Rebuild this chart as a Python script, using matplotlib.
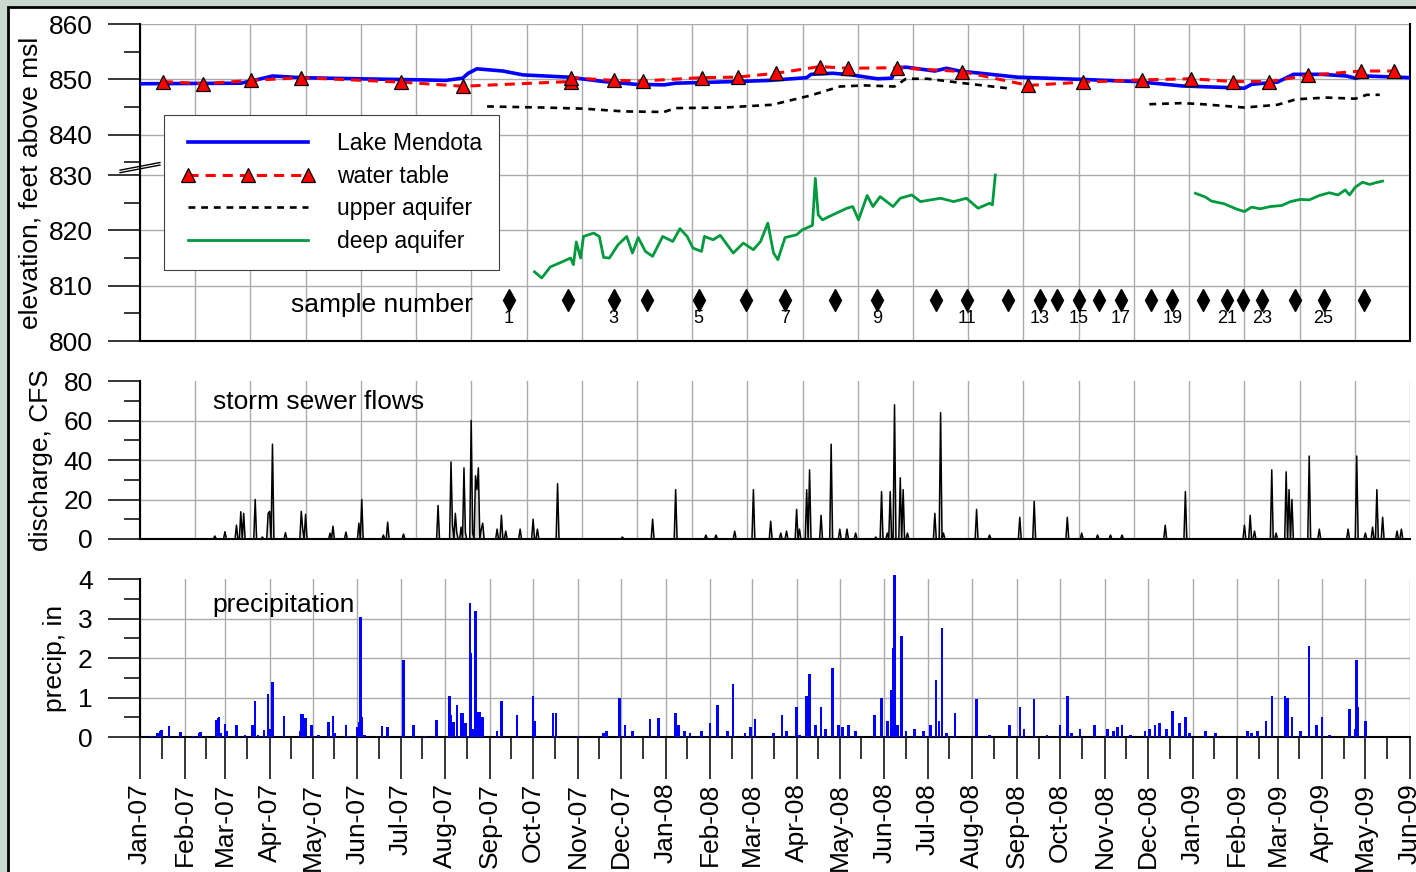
import numpy as np
import matplotlib
matplotlib.use('Agg')
import matplotlib.pyplot as plt
import matplotlib.dates as mdates
from matplotlib.ticker import FixedLocator, NullFormatter
from matplotlib.patches import Rectangle

plt.rcParams['font.family'] = ['Liberation Sans', 'DejaVu Sans']

# ---------------- data (days counted from 2007-01-01) ----------------
START = '2007-01-01'
END = '2009-06-01'

lake_day = [0, 70, 84, 92, 112, 151, 196, 212, 224, 228, 234, 252, 266, 297, 322, 344,
            364, 372, 414, 437, 463, 466, 481, 494, 512, 522, 526, 532, 552, 560, 569,
            609, 652, 692, 724, 767, 772, 790, 801, 821, 838, 844, 852, 882]
lake_ft = [849.2, 849.3, 850.1, 850.6, 850.3, 850.1, 849.9, 849.8, 850.2, 851.1, 851.9,
           851.5, 850.8, 850.4, 849.6, 849.1, 849.0, 849.3, 849.6, 849.8, 850.3, 850.9,
           851.1, 850.8, 850.1, 850.2, 852.1, 852.2, 851.5, 852.0, 851.5, 850.4, 850.0,
           849.6, 848.8, 848.4, 849.1, 849.5, 850.9, 850.9, 850.6, 850.2, 850.6, 850.3]

wt_day = [16, 44, 77, 112, 181, 224, 299, 299, 329, 349, 390, 415, 442, 472, 492, 526,
          571, 617, 655, 696, 730, 759, 784, 811, 848, 871]
wt_ft = [849.6, 849.2, 849.8, 850.3, 849.5, 848.75, 849.6, 850.3, 849.8, 849.7, 850.3,
         850.4, 851.1, 852.3, 852.0, 852.1, 851.4, 848.9, 849.5, 849.9, 850.1, 849.6,
         849.6, 850.7, 851.5, 851.5]

upper_day = [241, 280, 308, 336, 364, 372, 406, 439, 466, 486, 503, 524, 532, 547, 572,
             602, 650, 701, 724, 738, 767, 790, 803, 824, 844, 852, 861]
upper_ft = [845.1, 844.9, 844.7, 844.2, 844.1, 844.8, 844.9, 845.4, 847.1, 848.7, 848.9,
            848.7, 850.1, 850.1, 849.3, 848.4, np.nan, 845.5, 845.7, 845.5, 844.9, 845.4,
            846.4, 846.7, 846.5, 847.2, 847.2]

deep_day = [274, 279, 285, 294, 299, 301, 303, 306, 308, 315,
            319, 322, 326, 332, 338, 342, 346, 351, 356, 363,
            370, 375, 380, 384, 390, 392, 398, 403, 412, 419,
            426, 431, 436, 440, 443, 448, 456, 460, 467, 469,
            471, 474, 481, 491, 495, 499, 505, 509, 514, 523,
            528, 536, 542, 556, 565, 574, 582, 590, 592, 594,
            660,
            733, 740, 744, 753, 762, 767, 772, 778, 785, 793,
            799, 806, 812, 819, 826, 832, 837, 840, 844, 849,
            854, 858, 863]
deep_ft = [812.5, 811.4, 813.4, 814.4, 815.0, 813.8, 817.9, 815.0, 818.9, 819.5,
           818.9, 815.1, 815.0, 817.4, 818.9, 815.9, 818.7, 816.2, 815.3, 818.9,
           818.0, 820.3, 818.9, 816.8, 816.2, 818.9, 818.3, 819.1, 815.9, 817.7,
           816.5, 818.0, 821.3, 815.9, 814.7, 818.7, 819.2, 820.1, 820.9, 829.4,
           822.8, 821.9, 822.8, 824.0, 824.3, 821.9, 826.3, 824.3, 826.1, 824.3,
           825.8, 826.4, 825.2, 825.8, 825.2, 825.8, 824.0, 824.9, 824.6, 830.0,
           np.nan,
           826.7, 826.0, 825.3, 824.8, 823.8, 823.4, 824.2, 823.9, 824.3, 824.5,
           825.2, 825.6, 825.5, 826.3, 826.8, 826.4, 827.3, 826.4, 827.8, 828.7,
           828.3, 828.6, 828.9]

sample_day = [256, 297, 329, 352, 388, 421, 448, 483, 512, 553, 574, 603, 625, 637,
              652, 666, 681, 702, 717, 738, 755, 766, 779, 802, 822, 850]
sample_no = list(range(1, 27))
sample_level = 807.4

storm_day = [52, 59, 67, 70, 72, 80, 85, 89, 90, 92,
             101, 112, 113, 115, 132, 134, 143, 152, 154, 169,
             172, 183, 207, 216, 217, 219, 220, 223, 225, 226,
             230, 231, 233, 234, 235, 237, 238, 248, 251, 254,
             264, 273, 276, 290, 335, 356, 372, 393, 400, 413,
             426, 438, 445, 449, 456, 458, 463, 465, 473, 480,
             486, 491, 497, 511, 515, 519, 521, 524, 528, 530,
             533, 552, 556, 558, 581, 590, 611, 621, 644, 654,
             665, 674, 682, 712, 726, 767, 771, 774, 786, 789,
             796, 798, 800, 812, 819, 839, 845, 851, 856, 859,
             863, 873, 876]
storm_cfs = [1.5, 3.7, 7, 13.8, 13, 20, 1, 13, 14, 48,
             3.2, 14, 5, 12.5, 3, 6.5, 3.5, 8, 20, 2,
             8.5, 2.5, 17, 39, 7, 13, 3, 6, 36, 3,
             60, 3, 32, 25, 36, 5, 8, 5, 12, 4,
             5, 10, 5, 28, 1, 10, 25, 2, 2, 4,
             25, 9, 3, 4, 15, 5, 25, 35, 12, 48,
             5, 5, 3, 1, 24, 3, 24, 68, 31, 25,
             3, 13, 64, 3, 15, 2, 11, 19, 11, 3,
             2, 2, 2, 7, 24, 7, 12, 4, 35, 3,
             34, 25, 20, 42, 5, 5, 42, 3, 6, 25,
             11, 4, 5]

precip_day = [8, 12, 14, 15, 20, 28, 37, 41, 42, 53,
              54, 55, 56, 59, 60, 67, 73, 78, 80, 82,
              86, 89, 90, 92, 100, 111, 112, 113, 115, 119,
              124, 131, 134, 135, 143, 145, 151, 152, 153, 154,
              156, 168, 172, 183, 190, 198, 206, 215, 216, 217,
              218, 220, 223, 224, 226, 229, 230, 231, 233, 235,
              236, 238, 248, 251, 262, 273, 274, 287, 289, 304,
              322, 324, 333, 337, 342, 354, 360, 372, 374, 378,
              382, 390, 396, 401, 408, 412, 420, 424, 427, 440,
              446, 449, 456, 458, 463, 465, 469, 473, 476, 481,
              485, 488, 492, 497, 510, 515, 519, 522, 523, 524,
              526, 529, 532, 538, 544, 549, 553, 555, 557, 560,
              566, 581, 590, 604, 611, 614, 621, 630, 639, 644,
              647, 653, 663, 672, 676, 679, 682, 688, 698, 701,
              705, 708, 713, 717, 722, 726, 729, 740, 747, 769,
              772, 776, 782, 786, 795, 797, 800, 806, 812, 817,
              821, 826, 840, 844, 845, 846, 851]
precip_in = [0.03, 0.1, 0.15, 0.17, 0.28, 0.12, 0.03, 0.1, 0.12, 0.43,
             0.48, 0.5, 0.1, 0.32, 0.15, 0.3, 0.04, 0.3, 0.9, 0.06,
             0.17, 1.08, 0.2, 1.4, 0.53, 0.15, 0.57, 0.58, 0.48, 0.3,
             0.06, 0.38, 0.52, 0.1, 0.3, 0.03, 0.25, 0.38, 3.05, 0.5,
             0.06, 0.28, 0.25, 1.95, 0.3, 0.03, 0.43, 1.05, 0.55, 0.37,
             0.37, 0.8, 0.62, 0.61, 0.36, 3.4, 2.13, 0.2, 3.2, 0.63,
             0.63, 0.5, 0.15, 0.9, 0.55, 1.05, 0.4, 0.6, 0.6, 0.03,
             0.1, 0.15, 1.0, 0.3, 0.15, 0.45, 0.47, 0.6, 0.3, 0.15,
             0.1, 0.15, 0.35, 0.8, 0.15, 1.35, 0.1, 0.25, 0.45, 0.1,
             0.55, 0.15, 0.75, 0.05, 1.05, 1.6, 0.3, 0.75, 0.2, 1.75,
             0.3, 0.25, 0.3, 0.15, 0.55, 1.0, 0.4, 1.2, 2.25, 4.1,
             0.3, 2.55, 0.15, 0.2, 0.15, 0.3, 1.45, 0.4, 2.75, 0.1,
             0.6, 0.95, 0.05, 0.3, 0.75, 0.2, 0.95, 0.05, 0.3, 1.05,
             0.1, 0.2, 0.3, 0.2, 0.15, 0.25, 0.3, 0.05, 0.15, 0.2,
             0.3, 0.35, 0.2, 0.65, 0.35, 0.5, 0.1, 0.15, 0.1, 0.15,
             0.1, 0.15, 0.4, 1.05, 1.05, 1.0, 0.5, 0.15, 2.3, 0.3,
             0.5, 0.05, 0.7, 0.2, 1.95, 0.75, 0.4]

elev_ticks = [800, 810, 820, 830, 840, 850, 860]
elev_minor = [805, 815, 825, 835, 845, 855]
flow_ticks = [0, 20, 40, 60, 80]
flow_minor = [10, 30, 50, 70]
precip_ticks = [0, 1, 2, 3, 4]
precip_minor = [0.5, 1.5, 2.5, 3.5]


def to_dates(days):
    return np.datetime64(START) + np.asarray(days).astype('timedelta64[D]')


# ---------------- figure ----------------
W, H = 1416, 872
fig = plt.figure(figsize=(W / 100, H / 100), dpi=100)
fig.patch.set_facecolor('#cbd8d0')
fig.add_artist(Rectangle((8 / W, -0.05), 1.2, (H - 7) / H + 0.05, transform=fig.transFigure,
                         facecolor='white', edgecolor='black', linewidth=2.0, zorder=-10))

L, Wd = 140 / W, 1270 / W
ax1 = fig.add_axes([L, (H - 341) / H, Wd, 317 / H])
ax2 = fig.add_axes([L, (H - 539) / H, Wd, 158 / H])
ax3 = fig.add_axes([L, (H - 737) / H, Wd, 158 / H])

x0 = mdates.date2num(np.datetime64(START))
x1 = mdates.date2num(np.datetime64(END))
GRID = dict(color='#ababab', linewidth=1.0)
FS = 19

# broken elevation scale (gap between 830 and 840)
def fwd(y):
    y = np.asarray(y, dtype=float)
    return np.where(y <= 832, y, np.where(y >= 835, y - 2.7, 832 + (y - 832) * 0.1))

def inv(f):
    f = np.asarray(f, dtype=float)
    return np.where(f <= 832, f, np.where(f >= 832.3, f + 2.7, 832 + (f - 832) / 0.1))

for ax in (ax1, ax2, ax3):
    ax.set_facecolor('white')
    for s in ('top', 'right'):
        ax.spines[s].set_visible(False)
    for s in ('left', 'bottom'):
        ax.spines[s].set_linewidth(1.5)
    ax.tick_params(axis='y', which='major', direction='out', length=23, width=1.1,
                   labelsize=FS, pad=11, colors='black')
    ax.tick_params(axis='y', which='minor', direction='out', length=11.5, width=1.1)

# ---------------- top panel ----------------
ax1.set_yscale('function', functions=(fwd, inv))
ax1.plot(to_dates(lake_day), lake_ft, color='#0000ff', lw=2.6, label='Lake Mendota', zorder=3)
ax1.plot(to_dates(wt_day), wt_ft, color='#ff0000', lw=2.2, dashes=(3.3, 2.3),
         marker='^', ms=10, mfc='#ff0000', mec='black', mew=0.9,
         label='water table', zorder=4)
ax1.plot(to_dates(upper_day), upper_ft, color='black', lw=1.9, dashes=(2.6, 2.2),
         label='upper aquifer', zorder=3)
ax1.plot(to_dates(deep_day), deep_ft, color='#009a3e', lw=2.0, label='deep aquifer', zorder=3)

ax1.plot(to_dates(sample_day), [sample_level] * len(sample_day), linestyle='none',
         marker='d', ms=11, color='black', zorder=4)
for d, n in zip(sample_day, sample_no):
    if n % 2 == 1:
        ax1.annotate(str(n), (to_dates([d])[0], sample_level), xytext=(0, -13.5),
                     textcoords='offset points', ha='center', va='center', fontsize=13)
ax1.text(0.1906, 0.1136, 'sample number', transform=ax1.transAxes, fontsize=FS,
         ha='center', va='center')

ax1.set_ylim(800, 860)
ax1.yaxis.set_major_locator(FixedLocator(elev_ticks))
ax1.yaxis.set_minor_locator(FixedLocator(elev_minor))
ax1.yaxis.set_minor_formatter(NullFormatter())
ax1.yaxis.set_major_formatter(matplotlib.ticker.FormatStrFormatter('%d'))
ax1.spines['right'].set_visible(True)
ax1.spines['right'].set_linewidth(1.5)
ax1.set_ylabel('elevation, feet above msl', fontsize=FS)
ax1.yaxis.set_label_coords(-0.0764, 0.5)

# break marks
for dy in (0.0, 0.008):
    ax1.plot([-0.0157, 0.0157], [0.531 + dy, 0.555 + dy], transform=ax1.transAxes,
             color='black', lw=1.0, clip_on=False, zorder=6)

leg = ax1.legend(loc='upper left', bbox_to_anchor=(0.0189, 0.713), borderaxespad=0,
                 fontsize=16.5, handlelength=5.85, handletextpad=0.95, labelspacing=0.42,
                 borderpad=0.75, numpoints=3, frameon=True, fancybox=False,
                 edgecolor='#404040', framealpha=1)
leg.get_frame().set_linewidth(0.8)
leg.set_zorder(10)

# ---------------- storm sewer panel ----------------
all_days = np.arange(0, 883)
flow = np.zeros(all_days.size)
flow[storm_day] = storm_cfs
ax2.fill_between(to_dates(all_days), flow, color='#d6d6d6', lw=0, zorder=2)
ax2.plot(to_dates(all_days), flow, color='black', lw=1.1, zorder=3)
ax2.set_ylim(0, 80)
ax2.yaxis.set_major_locator(FixedLocator(flow_ticks))
ax2.yaxis.set_minor_locator(FixedLocator(flow_minor))
ax2.yaxis.set_minor_formatter(NullFormatter())
ax2.text(0.0575, 0.867, 'storm sewer flows', transform=ax2.transAxes, fontsize=FS,
         ha='left', va='center')
ax2.set_ylabel('discharge, CFS', fontsize=FS)
ax2.yaxis.set_label_coords(-0.0685, 0.5)

# ---------------- precipitation panel ----------------
ax3.bar(to_dates(precip_day), precip_in, width=1.7, color='#0000ff', linewidth=0,
        zorder=3, clip_on=False)
ax3.set_ylim(0, 4)
ax3.yaxis.set_major_locator(FixedLocator(precip_ticks))
ax3.yaxis.set_minor_locator(FixedLocator(precip_minor))
ax3.yaxis.set_minor_formatter(NullFormatter())
ax3.text(0.0567, 0.835, 'precipitation', transform=ax3.transAxes, fontsize=FS,
         ha='left', va='center')
ax3.set_ylabel('precip, in', fontsize=FS)
ax3.yaxis.set_label_coords(-0.0575, 0.5)

# ---------------- x axes ----------------
for ax in (ax1, ax2):
    ax.xaxis.set_major_locator(FixedLocator(np.linspace(x0, x1, 24)))
    ax.tick_params(axis='x', which='both', length=0, labelbottom=False)
    ax.set_xlim(x0, x1)
    ax.grid(True, axis='both', **GRID)
    ax.set_axisbelow(True)

ax3.xaxis.set_major_locator(mdates.MonthLocator())
ax3.xaxis.set_minor_locator(mdates.MonthLocator(bymonthday=16))
ax3.xaxis.set_major_formatter(mdates.DateFormatter('%b-%y'))
ax3.tick_params(axis='x', which='major', direction='out', length=30, width=1.1,
                labelsize=FS, labelrotation=90, pad=3)
ax3.tick_params(axis='x', which='minor', direction='out', length=16, width=1.1)
ax3.set_xlim(x0, x1)
ax3.grid(True, axis='both', which='major', **GRID)
ax3.set_axisbelow(True)

# no gridline on the top value of the lower panels
fig.canvas.draw()
for ax in (ax2, ax3):
    ax.yaxis.get_major_ticks()[-1].gridline.set_visible(False)

fig.savefig('out.png', dpi=100, facecolor=fig.get_facecolor())
